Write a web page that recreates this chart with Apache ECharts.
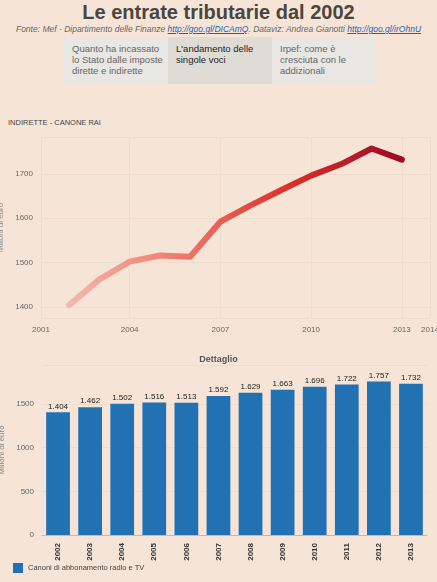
<!DOCTYPE html>
<html>
<head>
<meta charset="utf-8">
<script src="https://cdn.jsdelivr.net/npm/echarts@6/dist/echarts.min.js"></script>
<style>
body{margin:0;background:#f6e5d6;font-family:Arial,"Liberation Sans",sans-serif;width:437px;height:582px;overflow:hidden;position:relative}
#title{position:absolute;top:1px;left:0;width:437px;text-align:center;font-size:20px;font-weight:bold;color:#4a4540}
#src{position:absolute;top:24px;left:0;width:437px;text-align:center;font-size:8.5px;font-style:italic;color:#666}
#src a{color:#2a5db0;text-decoration:underline}
.tab{position:absolute;top:37px;width:104px;height:47px;background:#e9e7e3;font-size:9.5px;color:#666;padding:6px 0 0 8px;box-sizing:border-box;line-height:11px}
#sub{position:absolute;top:118px;left:8px;font-size:7.5px;color:#444}
#c1{position:absolute;top:128px;left:0;width:437px;height:212px}
#c2{position:absolute;top:342px;left:0;width:437px;height:240px}
</style>
</head>
<body>
<div id="title">Le entrate tributarie dal 2002</div>
<div id="src">Fonte: Mef - Dipartimento delle Finanze <a>http://goo.gl/DICAmQ</a>. Dataviz: Andrea Gianotti <a>http://goo.gl/irOhnU</a></div>
<div class="tab" style="left:64px">Quanto ha incassato lo Stato dalle imposte dirette e indirette</div>
<div class="tab" style="left:168px;background:#dfdcd6;color:#222">L'andamento delle singole voci</div>
<div class="tab" style="left:272px">Irpef: come è cresciuta con le addizionali</div>
<div id="sub">INDIRETTE - CANONE RAI</div>
<div id="c1"></div>
<div id="c2"></div>
<script>
var years = [2002,2003,2004,2005,2006,2007,2008,2009,2010,2011,2012,2013];
var values = [1404,1462,1502,1516,1513,1592,1629,1663,1696,1722,1757,1732];
var seriesName = 'Canoni di abbonamento radio e TV';

var axisTxt = {color:'#666',fontSize:8};
var grid = {lineStyle:{color:'#f0dccb'}};

var c1 = echarts.init(document.getElementById('c1'));
c1.setOption({
  grid:{left:41,right:7,top:9,bottom:22,outerBoundsMode:'none'},
  visualMap:{show:false,type:'continuous',dimension:0,min:2002,max:2013,inRange:{color:['#f2b7b0','#ef7a6c','#d8302a','#9c0a25']}},
  xAxis:{type:'value',min:2001.07,max:2013.93,name:'Anno',nameLocation:'middle',nameGap:17,nameTextStyle:{color:'#888',fontSize:8},
    axisLine:{show:false},axisTick:{show:false},splitLine:grid,
    axisLabel:Object.assign({showMinLabel:true,showMaxLabel:true,hideOverlap:false,formatter:function(v){return Math.round(v);}},axisTxt)},
  yAxis:{type:'value',min:1375,max:1783,name:'Milioni di euro',nameLocation:'middle',nameGap:26,nameTextStyle:{color:'#888',fontSize:8},
    axisLine:{show:false},axisTick:{show:false},splitLine:grid,
    axisLabel:Object.assign({showMinLabel:false,showMaxLabel:false,formatter:function(v){return v;}},axisTxt)},
  series:[{type:'line',data:years.map(function(y,i){return [y,values[i]];}),showSymbol:false,lineStyle:{width:6,cap:'round',join:'round'}}]
});

var c2 = echarts.init(document.getElementById('c2'));
c2.setOption({
  title:{text:'Dettaglio',left:'center',top:8,textStyle:{fontSize:9,color:'#555'}},
  legend:{left:8,bottom:4,itemWidth:10,itemHeight:10,itemGap:4,icon:'rect',textStyle:{fontSize:7.5,color:'#444'}},
  grid:{left:42,right:10,top:23,bottom:47,outerBoundsMode:'none'},
  xAxis:{type:'category',data:years,axisTick:{show:false},axisLine:{lineStyle:{color:'#bbb'}},
    axisLabel:{rotate:90,fontSize:8,fontWeight:'bold',color:'#333'}},
  yAxis:{type:'value',min:0,max:1946,interval:500,name:'Milioni di euro',nameLocation:'middle',nameGap:26,nameTextStyle:{color:'#888',fontSize:8},
    axisLine:{show:false},axisTick:{show:false},splitLine:grid,
    axisLabel:Object.assign({showMaxLabel:false,formatter:function(v){return v;}},axisTxt)},
  series:[{name:seriesName,type:'bar',data:values,barWidth:'74%',itemStyle:{color:'#2271b3'},
    label:{show:true,position:'top',distance:2,fontSize:8,color:'#222',formatter:function(p){return String(p.value).replace(/(\d)(\d{3})$/,'$1.$2');}}}]
});
</script>
</body>
</html>
